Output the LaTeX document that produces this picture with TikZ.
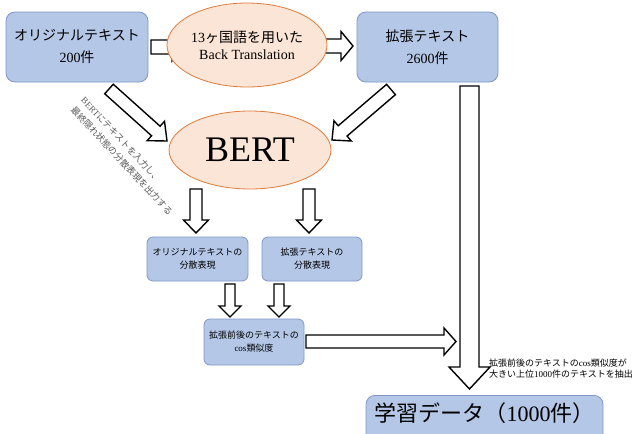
\documentclass[tikz,border=0pt]{standalone}
\usepackage{fontspec}
\setmainfont{Liberation Serif}
\newfontfamily\jp{Noto Sans CJK JP}
\usetikzlibrary{calc,shapes.geometric}
\definecolor{boxfill}{HTML}{B4C7E7}
\definecolor{boxline}{HTML}{7F97C8}
\definecolor{ellfill}{HTML}{FBE5D6}
\definecolor{ellline}{HTML}{E07B39}
\definecolor{annot}{HTML}{595959}
\newcommand\J[1]{{\jp #1}}
% block arrow: start, end, shaft half width, head half width, head length, id
\newcommand\barrow[6]{%
  \coordinate (#6h) at ($(#2)!#5!(#1)$);
  \draw[blockarrow] ($(#1)!#3!90:(#2)$) -- ($(#6h)!#3!90:(#2)$) -- ($(#6h)!#4!90:(#2)$) -- (#2)
     -- ($(#6h)!#4!-90:(#2)$) -- ($(#6h)!#3!-90:(#2)$) -- ($(#1)!#3!-90:(#2)$) -- cycle;}
\begin{document}
\begin{tikzpicture}[x=1pt,y=-1pt,
  bluebox/.style={draw=boxline, fill=boxfill, rounded corners=9pt, line width=0.8pt, align=center, inner sep=0pt},
  smallbox/.style={bluebox, rounded corners=6pt, font=\fontsize{9}{13}\selectfont},
  ell/.style={ellipse, draw=ellline, fill=ellfill, inner sep=0pt, align=center, line width=0.8pt},
  blockarrow/.style={draw=black, fill=white, line width=1.4pt, line join=miter}]
\useasboundingbox (0,0) rectangle (635,434);
\clip (0,0) rectangle (635,434);

% top boxes
\node[bluebox, minimum width=142pt, minimum height=70pt, font=\fontsize{14}{22}\selectfont] (orig) at (77,47) {\J{オリジナルテキスト}\\200\J{件}};
\node[bluebox, minimum width=141pt, minimum height=70pt, font=\fontsize{14}{22}\selectfont] (aug) at (427.5,47) {\J{拡張テキスト}\\2600\J{件}};

% arrow coordinates
\coordinate (a1s) at (151,47);   \coordinate (a1e) at (184,47);
\coordinate (a2s) at (322,46);   \coordinate (a2e) at (353,46);
\coordinate (a3s) at (109,89);   \coordinate (a3e) at (167,141);
\coordinate (a4s) at (391,89.5); \coordinate (a4e) at (332,140);
\coordinate (a5s) at (469.5,86); \coordinate (a5e) at (469.5,389);
\coordinate (a6s) at (196,189);  \coordinate (a6e) at (196,233);
\coordinate (a7s) at (309,189);  \coordinate (a7e) at (309,233);
\coordinate (a8s) at (230,284);  \coordinate (a8e) at (230,317);
\coordinate (a9s) at (279,284);  \coordinate (a9e) at (279,317);
\coordinate (a10s) at (306,341.5); \coordinate (a10e) at (456,341.5);

\barrow{a1s}{a1e}{7pt}{14pt}{12pt}{A}
\barrow{a2s}{a2e}{7pt}{14.5pt}{12pt}{B}

\node[ell, minimum width=160pt, minimum height=84pt, font=\fontsize{14}{17}\selectfont] (bt) at (247,45) {13\J{ヶ国語を用いた}\\Back Translation};

\barrow{a3s}{a3e}{6.4pt}{13pt}{15pt}{C}
\barrow{a4s}{a4e}{6.8pt}{13.3pt}{14pt}{D}
\barrow{a5s}{a5e}{9.5pt}{20.5pt}{22pt}{E}

\node[ell, minimum width=162pt, minimum height=78pt, font=\fontsize{36}{40}\selectfont] (bert) at (250,150) {BERT};

\node[rotate=-47, align=left, text=annot, font=\fontsize{9}{14}\selectfont] (note1) at (127,156) {BERT\J{にテキストを入力し、}\\\J{最終隠れ状態の分散表現を出力する}};

\barrow{a6s}{a6e}{6pt}{12.5pt}{13pt}{F}
\barrow{a7s}{a7e}{6pt}{12.5pt}{13pt}{G}

\node[smallbox, minimum width=101pt, minimum height=44pt] (dorig) at (197.5,259) {\J{オリジナルテキストの}\\\J{分散表現}};
\node[smallbox, minimum width=100pt, minimum height=44pt] (daug) at (312,259) {\J{拡張テキストの}\\\J{分散表現}};

\barrow{a8s}{a8e}{5pt}{11pt}{11pt}{H}
\barrow{a9s}{a9e}{5pt}{11pt}{11pt}{I}

\node[smallbox, minimum width=100pt, minimum height=46pt] (cos) at (254,342) {\J{拡張前後のテキストの}\\cos\J{類似度}};

\barrow{a10s}{a10e}{6.5pt}{13.5pt}{12pt}{K}

\node[anchor=west, align=left, inner sep=0pt, font=\fontsize{9}{11}\selectfont] (note2) at (489,368.5) {\J{拡張前後のテキストの}cos\J{類似度が}\\\J{大きい上位}1000\J{件のテキストを抽出}};

\node[bluebox, anchor=north, minimum width=237pt, minimum height=50pt, font=\fontsize{22}{24}\selectfont] (data) at (484.5,395) {\J{学習データ（}1000\J{件）}\rule[-16pt]{0pt}{16pt}};
\end{tikzpicture}
\end{document}
